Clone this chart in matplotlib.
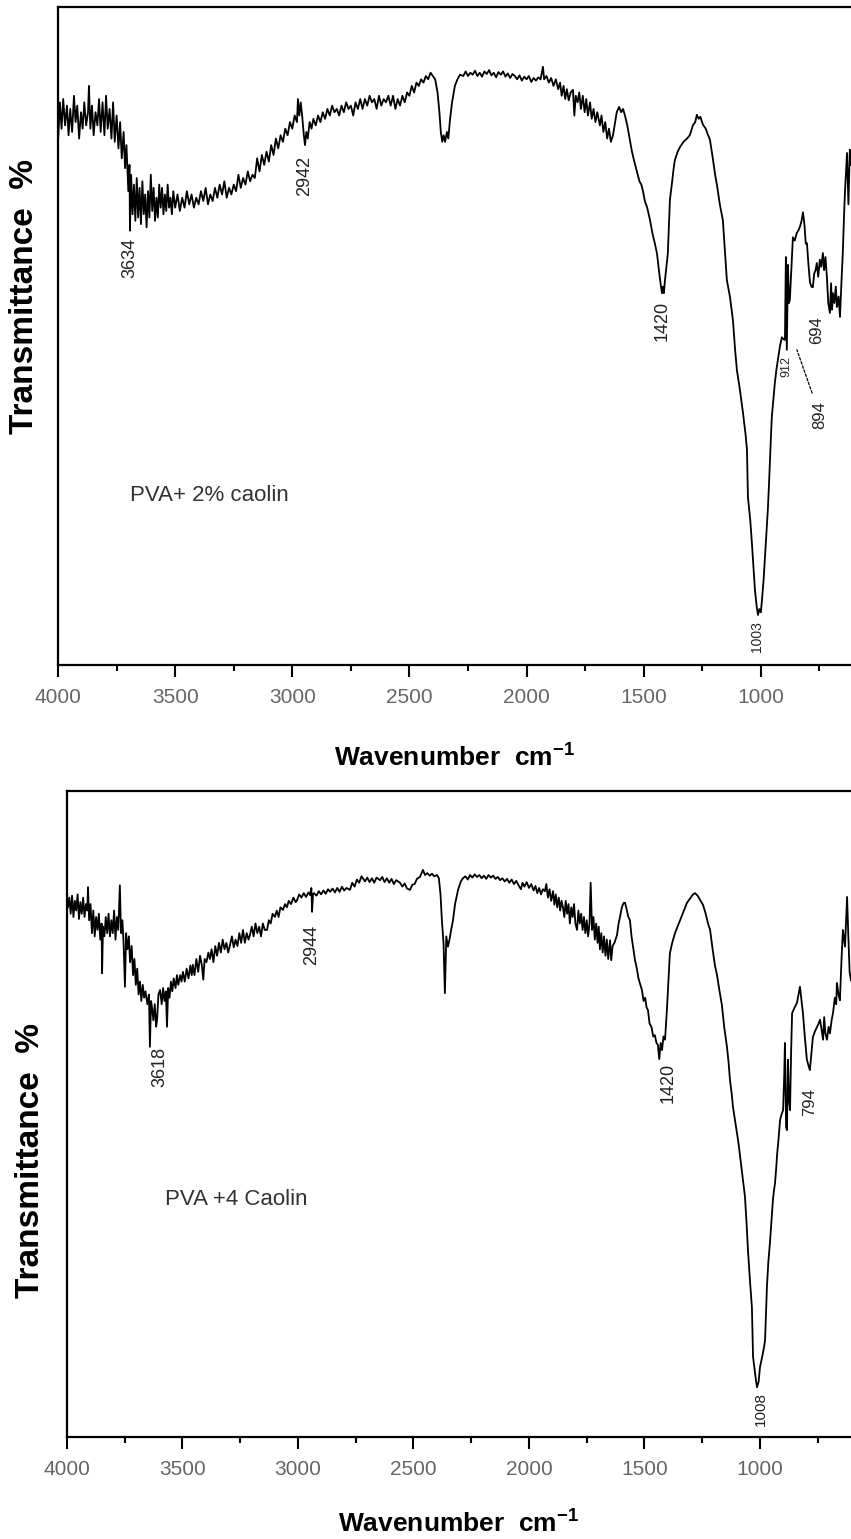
"""
FTIR spectra of PVA films with 2 % and 4 % caolin, redrawn as two stacked panels.
"""

import matplotlib.pyplot as plt
from matplotlib.ticker import MultipleLocator

plt.rcParams['font.family'] = ['Liberation Sans', 'DejaVu Sans']
plt.rcParams['mathtext.fontset'] = 'custom'
plt.rcParams['mathtext.rm'] = 'Liberation Sans'
plt.rcParams['mathtext.bf'] = 'Liberation Sans:bold'

# ---- PVA + 2% caolin (wavenumber cm-1, transmittance a.u.) ----
wn_2 = [4000, 3992, 3985, 3978, 3970, 3962, 3955, 3948, 3940, 3932, 3925, 3918, 3910, 3902,
        3895, 3888, 3880, 3872, 3868, 3862, 3855, 3848, 3840, 3832, 3825, 3818, 3810, 3802,
        3795, 3788, 3780, 3772, 3765, 3758, 3750, 3742, 3735, 3728, 3720, 3714, 3708, 3700,
        3695, 3693, 3688, 3682, 3676, 3670, 3664, 3658, 3652, 3646, 3640, 3634, 3628, 3622,
        3616, 3610, 3604, 3598, 3592, 3586, 3580, 3574, 3568, 3562, 3556, 3550, 3544, 3538,
        3532, 3526, 3520, 3514, 3508, 3500, 3490, 3480, 3470, 3460, 3450, 3440, 3430, 3420,
        3410, 3400, 3390, 3380, 3370, 3360, 3350, 3340, 3330, 3320, 3310, 3300, 3290, 3280,
        3270, 3260, 3250, 3240, 3230, 3220, 3210, 3200, 3190, 3180, 3170, 3160, 3150, 3140,
        3130, 3120, 3110, 3100, 3090, 3080, 3070, 3060, 3050, 3040, 3030, 3020, 3010, 3000,
        2990, 2980, 2976, 2970, 2964, 2958, 2952, 2946, 2940, 2934, 2926, 2918, 2910, 2900,
        2890, 2880, 2870, 2860, 2850, 2840, 2830, 2820, 2810, 2800, 2790, 2780, 2770, 2760,
        2750, 2740, 2730, 2720, 2710, 2700, 2690, 2680, 2670, 2660, 2650, 2640, 2630, 2620,
        2610, 2600, 2590, 2580, 2570, 2560, 2550, 2540, 2530, 2520, 2510, 2500, 2490, 2480,
        2470, 2460, 2450, 2440, 2430, 2420, 2410, 2400, 2390, 2380, 2372, 2366, 2360, 2354,
        2348, 2340, 2334, 2327, 2318, 2306, 2295, 2284, 2270, 2260, 2250, 2240, 2230, 2220,
        2210, 2200, 2190, 2180, 2170, 2160, 2150, 2140, 2130, 2120, 2110, 2100, 2090, 2080,
        2070, 2060, 2050, 2040, 2030, 2020, 2010, 2000, 1990, 1980, 1970, 1960, 1950, 1940,
        1930, 1925, 1915, 1905, 1895, 1885, 1875, 1865, 1857, 1850, 1842, 1835, 1828, 1820,
        1812, 1802, 1796, 1790, 1782, 1775, 1768, 1760, 1752, 1745, 1738, 1729, 1722, 1714,
        1706, 1698, 1687, 1680, 1672, 1664, 1656, 1648, 1640, 1631, 1624, 1615, 1605, 1596,
        1588, 1580, 1570, 1559, 1550, 1540, 1529, 1518, 1510, 1503, 1495, 1485, 1473, 1462,
        1452, 1443, 1435, 1428, 1422, 1418, 1414, 1409, 1403, 1397, 1392, 1388, 1380, 1372,
        1367, 1355, 1345, 1330, 1315, 1303, 1290, 1280, 1273, 1265, 1258, 1247, 1235, 1225,
        1217, 1205, 1195, 1187, 1175, 1162, 1150, 1145, 1132, 1119, 1110, 1102, 1090, 1076,
        1065, 1059, 1055, 1045, 1038, 1030, 1025, 1018, 1012, 1006, 1000, 995, 988, 983,
        976, 970, 965, 961, 957, 953, 946, 940, 933, 927, 918, 910, 903, 897,
        893, 889, 884, 880, 876, 870, 863, 855, 846, 840, 833, 826, 820, 814,
        808, 803, 797, 790, 784, 778, 772, 766, 761, 755, 748, 742, 735, 730,
        724, 718, 712, 705, 700, 696, 692, 686, 680, 675, 668, 662, 656, 650,
        645, 641, 636, 632, 626, 620, 615]
t_2 = [79.5, 85.5, 81.5, 86.0, 82.0, 85.0, 80.5, 84.5, 81.0, 86.5, 82.5, 85.0, 80.0, 84.0,
       81.5, 85.5, 82.0, 84.0, 88.0, 81.5, 85.0, 80.5, 84.0, 82.0, 86.0, 81.0, 85.5, 80.5,
       86.5, 81.5, 84.5, 80.0, 85.5, 79.5, 83.5, 78.5, 82.5, 77.0, 81.0, 75.5, 79.0, 72.0,
       76.0, 66.0, 74.5, 68.5, 73.0, 67.5, 74.0, 68.0, 72.5, 67.0, 73.5, 68.5, 71.5, 66.5,
       72.0, 68.0, 74.5, 69.0, 72.5, 67.5, 71.0, 68.0, 73.0, 69.5, 72.5, 68.5, 71.5, 69.0,
       73.0, 69.5, 71.0, 68.5, 72.0, 69.5, 71.5, 69.0, 71.0, 69.5, 72.0, 70.0, 71.5, 69.5,
       71.0, 70.0, 72.0, 70.5, 72.5, 70.0, 71.5, 70.5, 72.5, 71.0, 73.0, 71.5, 73.5, 71.0,
       72.5, 71.5, 73.0, 72.0, 74.5, 72.5, 74.0, 73.0, 75.0, 73.5, 74.5, 74.0, 77.0, 75.0,
       77.5, 76.0, 78.0, 76.5, 79.0, 77.5, 80.0, 78.5, 80.5, 79.5, 81.5, 80.5, 82.5, 81.5,
       83.5, 82.5, 86.0, 83.5, 85.5, 83.5, 81.0, 79.0, 81.0, 80.0, 82.5, 81.5, 83.0, 82.0,
       83.5, 82.5, 84.0, 83.0, 84.5, 83.5, 85.0, 84.0, 84.5, 83.5, 85.0, 84.0, 85.5, 84.5,
       85.0, 83.5, 85.5, 84.5, 86.0, 84.5, 86.0, 85.0, 86.5, 85.5, 86.0, 84.5, 86.5, 85.0,
       86.0, 85.5, 86.5, 85.0, 86.5, 84.5, 86.0, 85.0, 86.5, 85.5, 87.0, 86.5, 88.0, 87.0,
       88.5, 88.0, 89.0, 88.5, 89.5, 89.0, 90.0, 89.5, 89.0, 87.0, 84.0, 81.0, 79.5, 80.5,
       79.5, 81.0, 80.0, 82.8, 85.5, 88.0, 89.0, 89.7, 89.5, 90.2, 89.5, 90.0, 89.7, 90.3,
       89.5, 90.0, 89.4, 90.2, 89.8, 90.4, 89.6, 90.0, 89.3, 90.1, 89.7, 90.2, 89.4, 89.9,
       89.2, 89.8, 89.5, 89.0, 89.6, 88.8, 89.4, 89.0, 89.5, 88.6, 89.2, 88.8, 89.3, 89.0,
       90.9, 89.0, 89.5, 88.5, 89.2, 88.0, 89.0, 87.5, 88.5, 86.5, 88.0, 86.0, 87.5, 85.8,
       87.0, 87.4, 83.5, 86.5, 85.5, 87.0, 84.5, 86.5, 84.0, 86.0, 83.5, 85.5, 83.0, 84.5,
       82.5, 84.0, 82.0, 83.5, 81.0, 82.5, 80.0, 81.5, 79.5, 80.5, 82.0, 84.0, 84.8, 84.0,
       84.5, 83.5, 82.0, 79.8, 78.0, 76.5, 75.0, 73.5, 73.0, 72.0, 70.5, 69.5, 67.6, 65.5,
       64.0, 62.5, 60.0, 58.0, 56.5, 57.5, 56.5, 58.5, 60.5, 62.5, 67.0, 70.7, 73.0, 75.5,
       76.7, 78.0, 78.7, 79.5, 80.0, 80.5, 82.0, 82.5, 83.6, 83.0, 83.3, 82.1, 81.5, 80.5,
       79.8, 77.0, 74.5, 72.9, 70.0, 67.6, 61.0, 58.5, 56.0, 52.4, 48.0, 44.8, 42.0, 38.3,
       35.0, 32.7, 25.5, 22.0, 18.5, 14.0, 11.4, 9.0, 7.6, 8.5, 8.0, 9.9, 13.0, 16.0,
       20.0, 23.6, 27.5, 31.2, 34.5, 37.7, 40.5, 42.9, 45.0, 46.4, 48.5, 49.8, 49.5, 49.4,
       62.0, 47.9, 60.8, 55.0, 55.5, 60.0, 65.0, 64.5, 65.7, 66.0, 66.6, 67.5, 68.8, 67.0,
       64.0, 64.1, 61.0, 58.1, 57.5, 57.4, 59.5, 60.0, 61.1, 59.0, 61.6, 60.5, 62.6, 60.0,
       62.0, 59.0, 55.0, 53.5, 58.0, 54.0, 56.5, 55.0, 57.5, 54.4, 56.0, 52.9, 58.0, 62.6,
       68.0, 71.7, 75.0, 77.8, 70.0, 78.3, 76.0]

# ---- PVA + 4 caolin ----
wn_4 = [3996, 3990, 3984, 3978, 3972, 3966, 3960, 3954, 3948, 3942, 3936, 3930, 3924, 3918,
        3912, 3909, 3904, 3898, 3892, 3886, 3880, 3874, 3868, 3862, 3856, 3850, 3848, 3844,
        3838, 3832, 3826, 3820, 3814, 3808, 3802, 3796, 3790, 3784, 3778, 3771, 3766, 3760,
        3755, 3749, 3744, 3738, 3732, 3727, 3720, 3714, 3708, 3702, 3696, 3690, 3684, 3678,
        3672, 3666, 3660, 3652, 3645, 3641, 3636, 3632, 3626, 3620, 3614, 3610, 3604, 3597,
        3590, 3584, 3578, 3572, 3567, 3562, 3556, 3550, 3544, 3538, 3530, 3524, 3518, 3510,
        3504, 3498, 3490, 3482, 3474, 3466, 3460, 3455, 3448, 3440, 3432, 3424, 3416, 3410,
        3404, 3396, 3388, 3381, 3374, 3366, 3358, 3350, 3342, 3334, 3326, 3318, 3310, 3302,
        3294, 3286, 3278, 3270, 3262, 3254, 3246, 3238, 3230, 3222, 3214, 3208, 3200, 3192,
        3184, 3176, 3168, 3160, 3152, 3144, 3134, 3126, 3118, 3110, 3100, 3092, 3084, 3076,
        3065, 3056, 3048, 3040, 3030, 3020, 3010, 3004, 2995, 2985, 2975, 2965, 2955, 2948,
        2942, 2939, 2935, 2931, 2920, 2910, 2900, 2890, 2880, 2870, 2861, 2850, 2840, 2830,
        2820, 2810, 2800, 2790, 2775, 2765, 2755, 2745, 2735, 2725, 2719, 2710, 2700, 2690,
        2680, 2670, 2660, 2645, 2635, 2625, 2615, 2605, 2595, 2585, 2575, 2558, 2548, 2538,
        2528, 2515, 2505, 2495, 2485, 2472, 2459, 2450, 2440, 2430, 2420, 2410, 2398, 2390,
        2383, 2377, 2370, 2364, 2358, 2351, 2344, 2337, 2329, 2320, 2307, 2295, 2286, 2275,
        2265, 2255, 2245, 2235, 2225, 2215, 2205, 2195, 2185, 2175, 2165, 2155, 2145, 2135,
        2125, 2115, 2105, 2095, 2085, 2075, 2065, 2055, 2045, 2035, 2028, 2020, 2010, 2000,
        1990, 1980, 1972, 1964, 1956, 1948, 1940, 1931, 1925, 1918, 1911, 1904, 1896, 1890,
        1884, 1878, 1871, 1865, 1859, 1853, 1847, 1841, 1835, 1829, 1823, 1817, 1811, 1805,
        1799, 1792, 1786, 1780, 1774, 1768, 1762, 1756, 1750, 1744, 1738, 1733, 1727, 1721,
        1715, 1709, 1703, 1698, 1693, 1687, 1681, 1675, 1669, 1663, 1657, 1649, 1644, 1638,
        1630, 1619, 1612, 1606, 1598, 1590, 1584, 1576, 1570, 1563, 1556, 1548, 1541, 1533,
        1526, 1518, 1511, 1504, 1497, 1491, 1485, 1478, 1470, 1462, 1455, 1448, 1442, 1436,
        1430, 1424, 1418, 1411, 1403, 1396, 1390, 1380, 1368, 1357, 1346, 1330, 1316, 1300,
        1290, 1281, 1270, 1260, 1247, 1235, 1225, 1216, 1205, 1195, 1186, 1175, 1165, 1155,
        1143, 1136, 1130, 1122, 1117, 1108, 1100, 1093, 1087, 1080, 1074, 1068, 1065, 1058,
        1052, 1043, 1035, 1032, 1030, 1020, 1013, 1006, 1000, 990, 982, 978, 974, 970,
        964, 957, 950, 944, 940, 935, 930, 926, 920, 913, 906, 900, 895, 892,
        887, 883, 879, 874, 870, 865, 861, 850, 840, 833, 827, 820, 814, 806,
        797, 790, 784, 777, 771, 762, 753, 746, 740, 733, 727, 722, 717, 710,
        703, 697, 690, 684, 676, 670, 667, 660, 654, 647, 641, 636, 632, 627,
        623, 618, 612, 606]
t_4 = [82.0, 83.5, 81.0, 83.8, 80.5, 83.0, 81.5, 84.0, 80.2, 82.8, 81.0, 83.5, 80.5, 82.5,
       81.5, 85.1, 80.0, 82.5, 78.0, 81.5, 77.5, 80.5, 78.5, 81.0, 77.0, 79.5, 71.8, 79.0,
       77.5, 80.5, 78.0, 81.0, 77.5, 80.0, 78.0, 81.5, 77.0, 80.5, 78.5, 85.4, 78.0, 80.0,
       76.5, 69.7, 78.0, 75.5, 77.5, 73.5, 76.0, 71.5, 74.0, 70.0, 72.5, 68.5, 70.5, 67.5,
       70.0, 68.0, 69.0, 67.0, 68.5, 60.4, 67.5, 66.5, 64.5, 67.0, 63.5, 64.6, 68.5, 69.2,
       67.0, 69.5, 67.5, 69.0, 63.5, 69.5, 68.0, 70.5, 69.0, 71.0, 69.5, 71.5, 70.0, 71.5,
       70.5, 72.0, 70.5, 72.5, 71.0, 73.0, 71.5, 73.1, 71.5, 74.0, 72.0, 74.5, 73.0, 70.8,
       74.0, 73.5, 75.0, 74.0, 75.5, 73.5, 76.0, 74.5, 76.5, 75.0, 77.0, 75.5, 76.5, 75.0,
       76.2, 77.5, 75.8, 77.0, 76.0, 78.0, 76.5, 78.5, 76.5, 78.0, 77.0, 77.7, 79.0, 77.5,
       79.5, 78.0, 79.0, 77.5, 79.5, 78.5, 78.5, 80.0, 79.5, 81.0, 80.5, 81.5, 80.5, 82.0,
       81.6, 82.5, 82.0, 83.0, 82.5, 83.5, 82.8, 83.1, 84.0, 83.5, 84.2, 83.6, 84.3, 83.9,
       85.0, 81.3, 84.0, 84.2, 83.8, 84.5, 84.0, 84.6, 84.1, 84.8, 84.4, 84.9, 84.3, 85.0,
       84.4, 85.2, 84.6, 85.0, 84.7, 85.8, 85.2, 86.3, 85.8, 86.8, 86.5, 86.0, 86.6, 85.9,
       86.5, 85.8, 86.6, 86.2, 86.7, 85.9, 86.5, 85.8, 86.4, 85.6, 86.2, 85.8, 85.2, 85.7,
       84.9, 84.7, 85.5, 85.6, 86.4, 86.7, 87.8, 87.0, 87.3, 86.9, 87.2, 86.8, 87.0, 86.5,
       84.0, 80.0, 76.5, 68.7, 77.5, 75.9, 77.0, 78.5, 80.0, 82.5, 84.7, 86.0, 86.5, 86.8,
       86.3, 87.0, 86.6, 87.1, 86.7, 87.0, 86.5, 86.9, 86.4, 87.0, 86.6, 86.9, 86.4, 86.7,
       86.2, 86.5, 86.0, 86.4, 85.8, 86.3, 85.6, 86.1, 85.4, 84.8, 85.8, 85.2, 85.9, 85.0,
       85.6, 84.6, 85.3, 84.2, 85.0, 84.0, 84.8, 84.5, 85.6, 83.5, 84.8, 83.0, 84.5, 82.4,
       84.0, 82.0, 83.5, 81.5, 83.0, 82.0, 80.5, 83.0, 81.0, 82.5, 79.5, 82.0, 80.5, 82.5,
       79.5, 78.5, 81.5, 79.5, 81.0, 78.5, 80.5, 78.0, 80.0, 77.5, 79.5, 85.8, 78.5, 80.5,
       77.0, 79.5, 76.5, 79.0, 75.5, 78.0, 75.0, 77.5, 74.5, 77.0, 74.0, 76.9, 73.8, 76.0,
       76.5, 77.7, 79.5, 80.5, 82.0, 82.7, 82.7, 81.5, 80.5, 80.0, 77.5, 75.5, 73.8, 72.5,
       71.0, 70.0, 69.2, 67.5, 68.0, 66.5, 66.1, 64.0, 63.5, 62.0, 62.2, 61.0, 60.7, 58.5,
       61.0, 59.9, 62.0, 61.5, 66.1, 71.0, 74.9, 76.5, 78.0, 79.0, 80.0, 81.5, 82.7, 83.5,
       84.0, 84.2, 83.8, 83.2, 82.4, 81.0, 79.5, 78.5, 75.5, 73.0, 71.5, 69.0, 66.9, 63.5,
       60.4, 58.0, 55.3, 53.0, 51.1, 49.0, 47.1, 45.5, 43.7, 41.5, 39.8, 38.0, 37.2, 33.0,
       28.9, 24.0, 20.1, 15.0, 12.4, 9.5, 7.7, 8.5, 10.8, 12.5, 14.0, 15.0, 19.0, 23.2,
       27.0, 30.0, 33.5, 36.7, 38.0, 39.3, 41.5, 43.7, 46.0, 49.1, 50.0, 50.6, 56.0, 61.0,
       48.0, 47.5, 58.4, 52.0, 50.6, 60.0, 65.6, 66.5, 67.2, 68.5, 69.7, 67.5, 65.6, 62.0,
       58.4, 57.5, 56.8, 59.5, 61.9, 62.8, 63.5, 64.0, 64.6, 63.0, 61.5, 65.0, 62.5, 61.5,
       63.5, 62.5, 64.5, 65.6, 68.0, 67.0, 70.3, 68.5, 67.6, 74.0, 78.5, 77.0, 75.9, 80.0,
       83.6, 78.0, 72.0, 70.7]

# peak labels: text, wavenumber, transmittance, font size
peaks_2 = [('3634', 3693, 61.9, 13), ('2942', 2946, 74.3, 13), ('1420', 1422, 52.3, 13),
           ('1003', 1017, 4.3, 10), ('912', 889, 45.3, 9), ('694', 761, 50.9, 12)]
peaks_4 = [('3618', 3597, 57.3, 13), ('2944', 2939, 76.2, 13), ('1420', 1398, 54.8, 13),
           ('1008', 996, 4.3, 11), ('794', 784, 51.9, 12)]

fig = plt.figure(figsize=(8.51, 15.39), dpi=100)
ax_top = fig.add_axes([0.0682, 0.5679, 0.9318, 0.4276])
ax_bot = fig.add_axes([0.0787, 0.0663, 0.9213, 0.4197])


def draw_panel(ax, wn, t, xcut, peaks):
    ax.plot(wn, t, color='black', lw=1.3)
    ax.set_xlim(4000, xcut)
    ax.set_ylim(0, 100)
    ax.xaxis.set_major_locator(MultipleLocator(500))
    ax.xaxis.set_minor_locator(MultipleLocator(250))
    ax.tick_params(axis='x', which='major', direction='out', length=8.5, width=1.5,
                   pad=8, labelsize=15, labelcolor='#666666')
    ax.tick_params(axis='x', which='minor', direction='out', length=4.5, width=1.5)
    ax.set_yticks([])
    ax.spines['right'].set_visible(False)
    for s in ['left', 'top', 'bottom']:
        ax.spines[s].set_linewidth(1.6)
    for label, x, y, size in peaks:
        ax.text(x, y, label, rotation=90, ha='center', va='center',
                fontsize=size, color='#222222')


draw_panel(ax_top, wn_2, t_2, 615, peaks_2)
draw_panel(ax_bot, wn_4, t_4, 606, peaks_4)

# the 894 label sits away from its band with a dashed leader
ax_top.annotate('894', xy=(846, 47.9), xytext=(748, 38.0), rotation=90,
                ha='center', va='center', fontsize=12, color='#222222',
                arrowprops=dict(arrowstyle='-', ls=(0, (2, 1.5)), lw=0.9, color='black',
                                shrinkA=4, shrinkB=0))

ax_top.text(3693, 25.7, 'PVA+ 2% caolin', ha='left', va='center', fontsize=16, color='#333333')
ax_bot.text(3576, 36.7, 'PVA +4 Caolin', ha='left', va='center', fontsize=16, color='#333333')

# axis titles
xlab = r'Wavenumber  cm$^{\mathbf{-1}}$'
fig.text(455 / 851, 1 - 757 / 1539, xlab, ha='center', va='center', fontsize=19, fontweight='bold')
fig.text(459 / 851, 1 - 1523 / 1539, xlab, ha='center', va='center', fontsize=19, fontweight='bold')
fig.text(25 / 851, 1 - 296 / 1539, 'Transmittance  %', rotation=90, ha='center', va='center',
         fontsize=24, fontweight='bold')
fig.text(31 / 851, 1 - 1160 / 1539, 'Transmittance  %', rotation=90, ha='center', va='center',
         fontsize=24, fontweight='bold')

plt.savefig('out.png', dpi=100)
plt.close()
